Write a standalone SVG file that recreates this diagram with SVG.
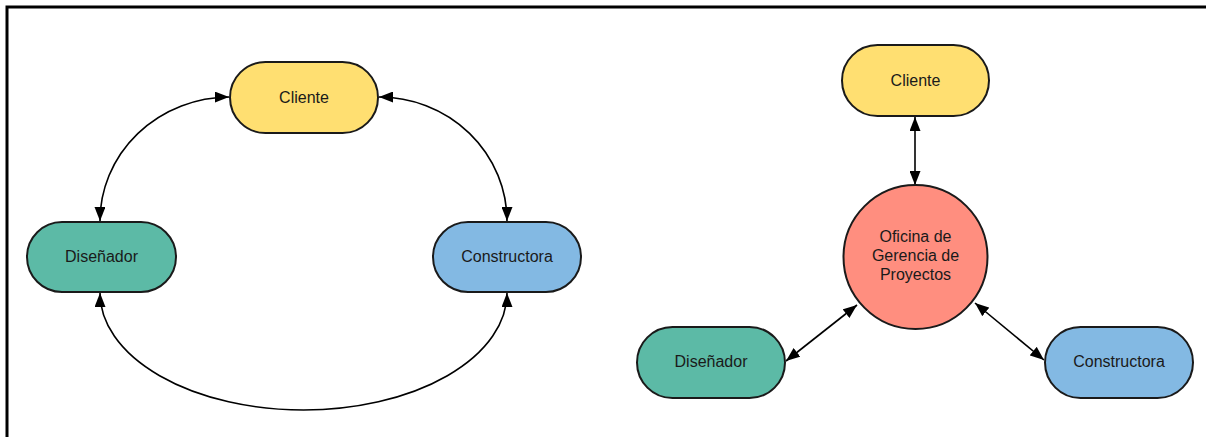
<svg xmlns="http://www.w3.org/2000/svg" width="1206" height="437" viewBox="0 0 1206 437">
  <style>
    .node { stroke: #1a1a1a; stroke-width: 2; }
    .label { font-family: "Liberation Sans", Arial, sans-serif; font-size: 16px; fill: #1a1a1a; text-anchor: middle; }
    .link { fill: none; stroke: #000; stroke-width: 1.6; marker-start: url(#arrow); marker-end: url(#arrow); }
    .yellow { fill: #FFDF71; }
    .green { fill: #5CBAA6; }
    .blue { fill: #83B9E3; }
    .red { fill: #FF8E7F; }
  </style>
  <defs>
    <marker id="arrow" viewBox="0 0 14 11" refX="14" refY="5.5" markerWidth="14" markerHeight="11" markerUnits="userSpaceOnUse" orient="auto-start-reverse">
      <path d="M0,0 L14,5.5 L0,11 Z" fill="#000"/>
    </marker>
  </defs>

  <rect width="1206" height="437" fill="#fff"/>
  <!-- frame -->
  <path d="M7,437 V7 H1206" fill="none" stroke="#000" stroke-width="3"/>

  <!-- connectors -->
  <g id="connectors">
    <path class="link" d="M100,221 A130,124 0 0 1 229,97"/>
    <path class="link" d="M379,97 A128,124 0 0 1 507,221"/>
    <path class="link" d="M100,293 A203.5,117 0 0 0 507,293"/>
    <path class="link" d="M915,117 V185"/>
    <path class="link" d="M786,361 L857,305"/>
    <path class="link" d="M975,303 L1044,360"/>
  </g>

  <!-- left: direct relations -->
  <g id="cliente-a">
    <rect class="node yellow" x="230" y="62" width="148" height="71" rx="35.5"/>
    <text class="label" x="304" y="103">Cliente</text>
  </g>
  <g id="disenador-a">
    <rect class="node green" x="27" y="222" width="149" height="70" rx="35"/>
    <text class="label" x="101.5" y="262">Diseñador</text>
  </g>
  <g id="constructora-a">
    <rect class="node blue" x="433" y="222" width="148" height="70" rx="35"/>
    <text class="label" x="507" y="262">Constructora</text>
  </g>

  <!-- right: relations through the project office -->
  <g id="cliente-b">
    <rect class="node yellow" x="842" y="45" width="147" height="71" rx="35.5"/>
    <text class="label" x="915.5" y="86">Cliente</text>
  </g>
  <g id="oficina">
    <circle class="node red" cx="915.5" cy="257" r="72"/>
    <text class="label" x="915.5" y="242">Oficina de</text>
    <text class="label" x="915.5" y="261">Gerencia de</text>
    <text class="label" x="915.5" y="280">Proyectos</text>
  </g>
  <g id="disenador-b">
    <rect class="node green" x="637" y="327" width="148" height="71" rx="35.5"/>
    <text class="label" x="711" y="367">Diseñador</text>
  </g>
  <g id="constructora-b">
    <rect class="node blue" x="1045" y="327" width="148" height="71" rx="35.5"/>
    <text class="label" x="1119" y="367">Constructora</text>
  </g>
</svg>
